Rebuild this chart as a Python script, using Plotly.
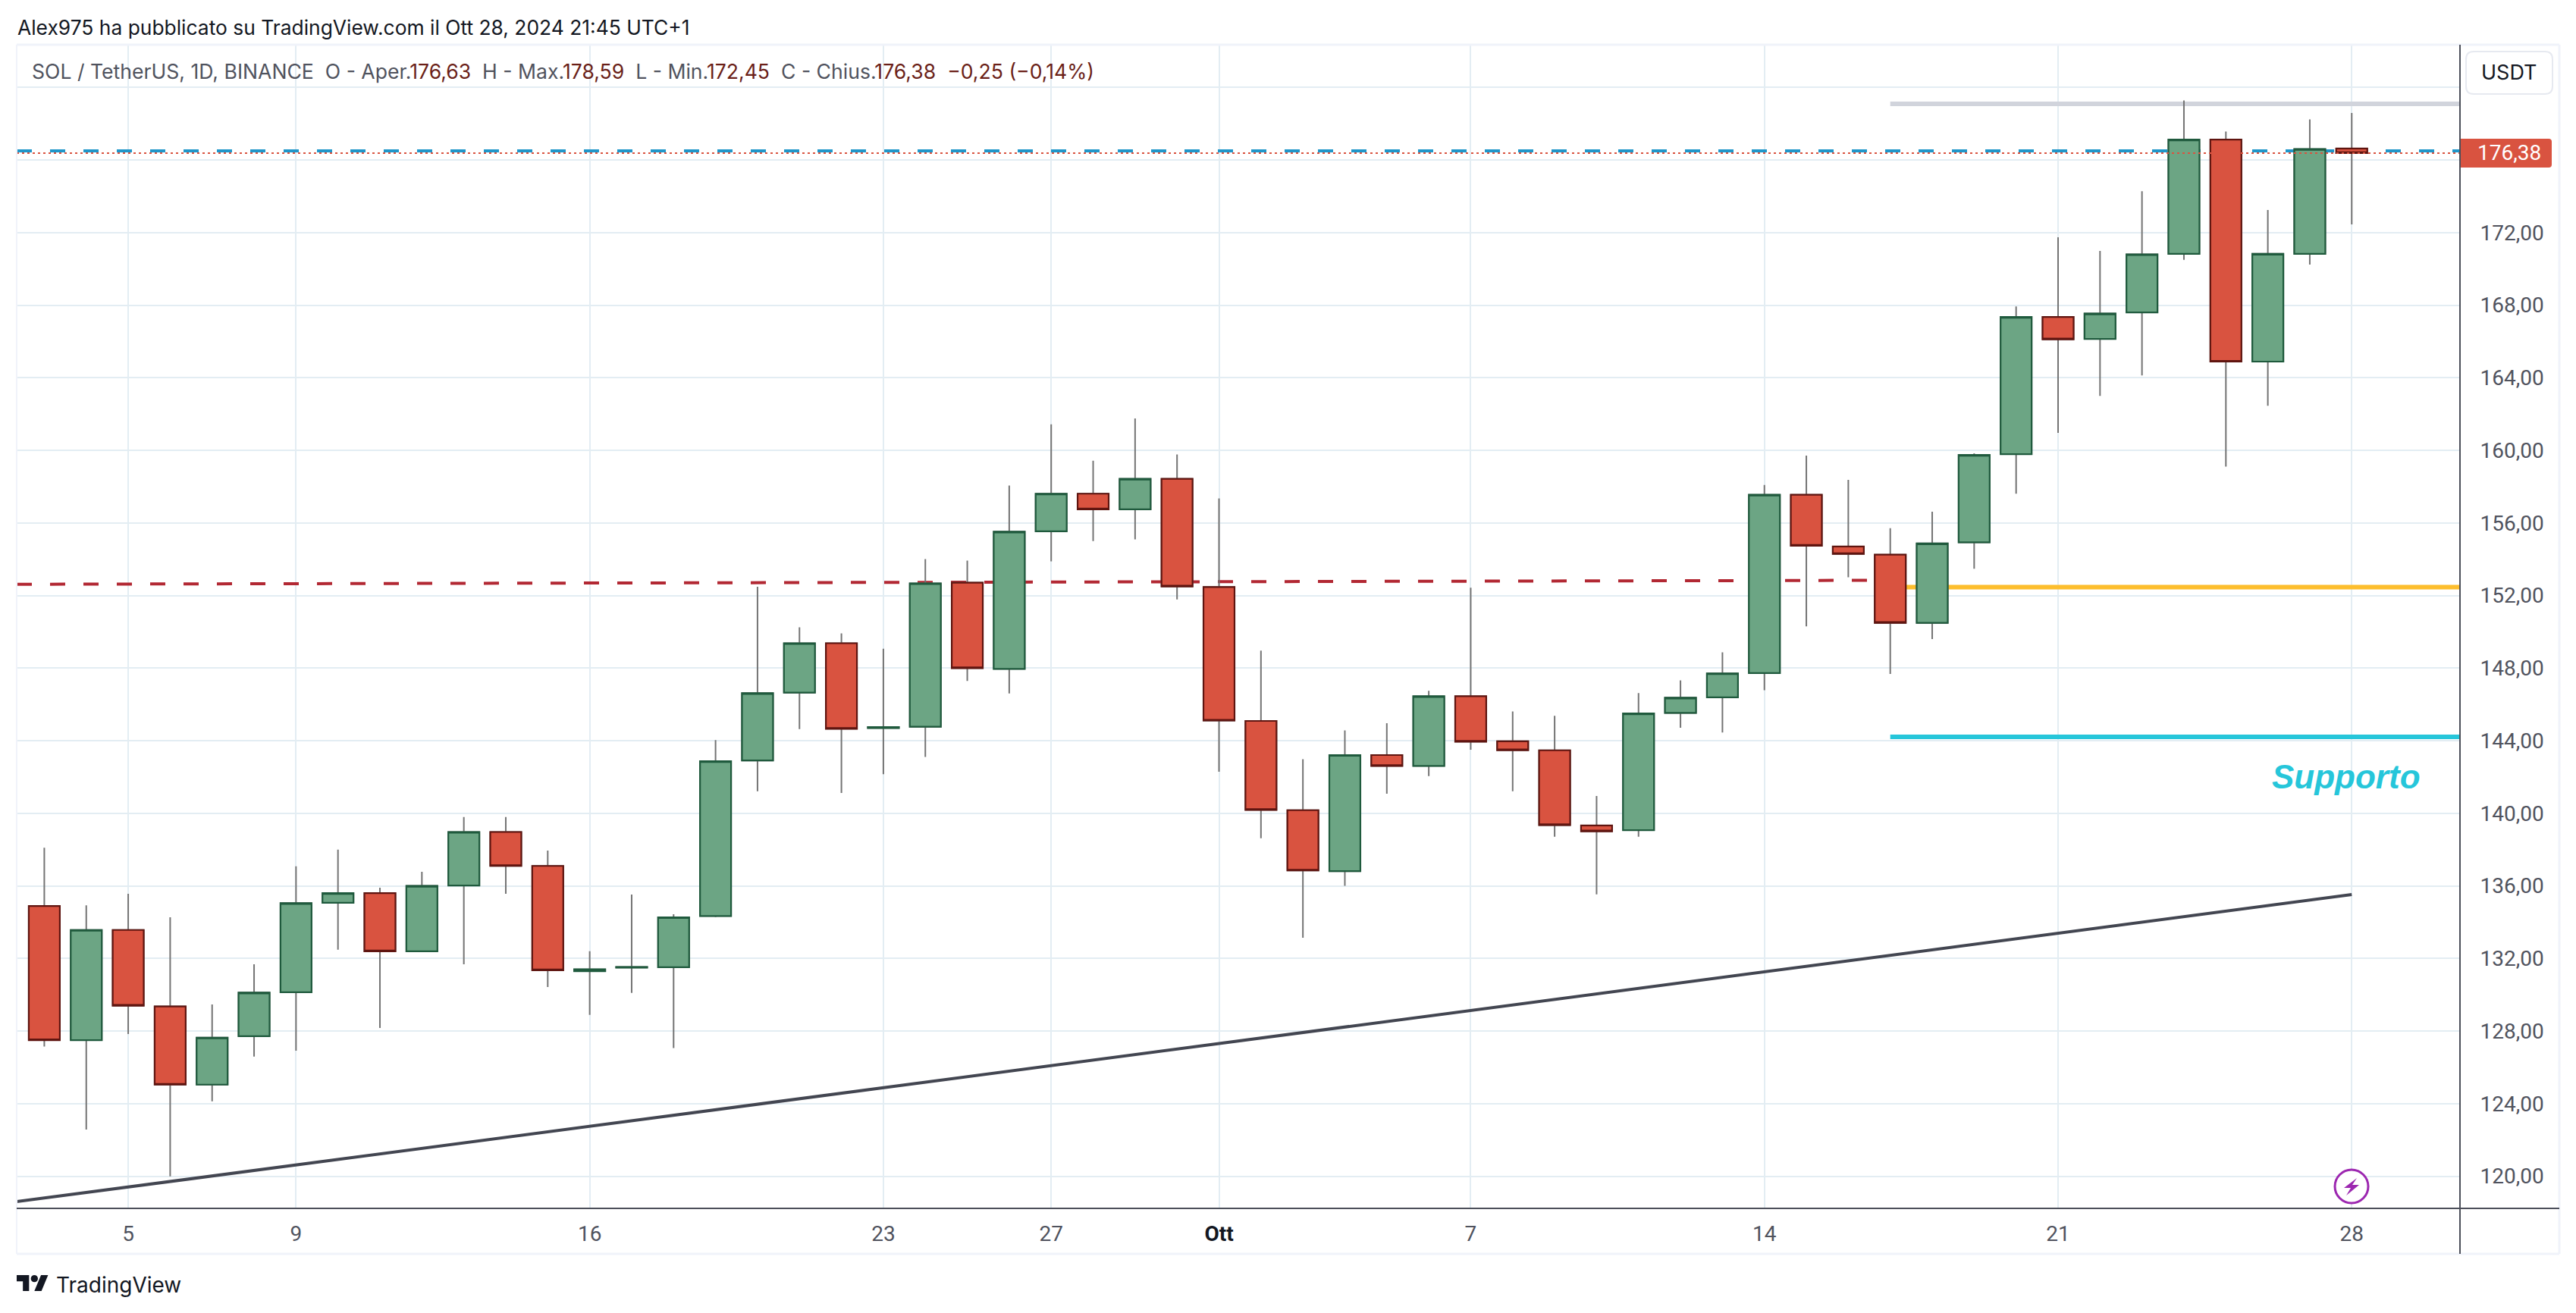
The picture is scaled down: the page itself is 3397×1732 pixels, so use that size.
import pandas as pd
import plotly.graph_objects as go

W, H = 3397, 1732
L, R, T, B = 22, 3244, 59, 1594

dates = pd.date_range("2024-09-03", periods=56, freq="D").strftime("%Y-%m-%d").tolist()
opens = [134.89, 127.50, 133.57, 129.36, 125.05, 127.72, 130.14, 135.07, 135.60, 132.40,
         136.02, 138.97, 137.10, 131.30, 131.50, 131.52, 134.34, 142.91, 146.65, 149.37,
         144.70, 144.77, 152.71, 147.96, 155.54, 157.61, 156.75, 158.43, 152.47, 145.09,
         140.17, 136.81, 143.21, 142.61, 146.45, 143.97, 143.47, 139.33, 139.07, 145.53,
         146.39, 147.73, 157.55, 154.70, 154.25, 150.49, 154.93, 159.79, 167.35, 166.14,
         167.60, 170.83, 177.12, 164.89, 170.83, 176.63]
highs = [138.10, 134.93, 135.57, 134.27, 129.47, 131.68, 137.08, 138.00, 135.90, 136.78,
         139.79, 139.79, 137.95, 132.40, 135.52, 134.44, 144.03, 152.48, 150.25, 149.91,
         149.07, 154.01, 153.92, 158.06, 161.43, 159.43, 161.76, 159.77, 157.35, 148.96,
         142.98, 144.57, 144.96, 146.75, 152.43, 145.61, 145.37, 140.95, 146.62, 147.32,
         148.87, 158.09, 159.71, 158.37, 155.71, 156.62, 159.83, 167.93, 171.74, 170.99,
         174.28, 179.28, 177.57, 173.24, 178.24, 178.59]
lows = [127.15, 122.57, 127.84, 120.00, 124.13, 126.59, 126.92, 132.48, 128.17, 132.40,
        131.68, 135.57, 130.43, 128.89, 130.10, 127.06, 134.28, 141.21, 144.64, 141.12,
        142.16, 143.11, 147.29, 146.60, 153.88, 155.00, 155.09, 151.78, 142.29, 138.62,
        133.14, 136.00, 141.08, 142.05, 143.50, 141.21, 138.71, 135.53, 138.71, 144.71,
        144.45, 146.78, 150.30, 153.00, 147.68, 149.60, 153.47, 157.61, 160.96, 163.00,
        164.13, 170.50, 159.10, 162.46, 170.24, 172.45]
closes = [127.50, 133.57, 129.40, 125.05, 127.64, 130.12, 135.05, 135.60, 132.40, 136.00,
          138.97, 137.10, 131.35, 131.40, 131.53, 134.27, 142.87, 146.62, 149.37, 144.66,
          144.75, 152.67, 148.00, 155.52, 157.61, 156.75, 158.43, 152.50, 145.11, 140.19,
          136.85, 143.21, 142.61, 146.45, 143.95, 143.48, 139.35, 139.01, 145.50, 146.37,
          147.71, 157.55, 154.74, 154.29, 150.49, 154.87, 159.75, 167.35, 166.12, 167.54,
          170.80, 177.12, 164.89, 170.83, 176.60, 176.38]

y_ticks = [120, 124, 128, 132, 136, 140, 144, 148, 152, 156, 160, 164, 168, 172, 176, 180]
y_labels = ["120,00", "124,00", "128,00", "132,00", "136,00", "140,00", "144,00", "148,00",
            "152,00", "156,00", "160,00", "164,00", "168,00", "172,00", "", ""]
x_ticks = ["2024-09-05", "2024-09-09", "2024-09-16", "2024-09-23", "2024-09-27", "2024-10-01",
           "2024-10-07", "2024-10-14", "2024-10-21", "2024-10-28"]
x_labels = ["5", "9", "16", "23", "27", "<b style='color:#131722'>Ott</b>", "7", "14", "21", "28"]

x_range = ["2024-09-02 08:12", "2024-10-30 13:55"]
y_range = [118.23, 182.35]

last_price = 176.38
blue_level = 176.50
resistance_level = 179.09
yellow_level = 152.46
support_level = 144.21
level_start = "2024-10-17"
dashed_x = ["2024-09-02 08:12", "2024-10-17"]
dashed_y = [152.62, 152.84]
trend_x = ["2024-09-02 08:12", "2024-10-28"]
trend_y = [118.60, 135.52]

GRID = "#e3edf3"
TXT = "#50535e"
RED, RED_D = "#d95340", "#5f1510"
GRN, GRN_D = "#6ca584", "#1f5a3d"
WICK = "#747474"


def px(x):
    return (x - L) / (R - L)


def py(y):
    return (B - y) / (B - T)


def pth(cmds):
    out = []
    for c in cmds:
        if isinstance(c, str):
            out.append(c)
        else:
            out.append(f"{px(c[0]):.6f},{py(c[1]):.6f}")
    return " ".join(out)


fig = go.Figure()

# Lines that sit behind the candles live on the base axes
for xs, ys, col, w, dash in [
    (list(x_range), [blue_level] * 2, "#2196c9", 4, "20px,24px"),
    ([level_start, x_range[1]], [resistance_level] * 2, "#d1d4dc", 6, "solid"),
    ([level_start, x_range[1]], [yellow_level] * 2, "#fdbe2d", 6, "solid"),
    ([level_start, x_range[1]], [support_level] * 2, "#26c6da", 6, "solid"),
    (dashed_x, dashed_y, "#b22833", 4, "20px,24px"),
]:
    fig.add_trace(go.Scatter(x=xs, y=ys, mode="lines", line=dict(color=col, width=w, dash=dash),
                             hoverinfo="skip", showlegend=False))

# Full candles in grey give the wicks; the bodies are redrawn on top with their dark outline
fig.add_trace(go.Candlestick(
    x=dates, open=opens, high=highs, low=lows, close=closes, xaxis="x2", yaxis="y2",
    increasing=dict(line=dict(color=WICK, width=2), fillcolor=GRN),
    decreasing=dict(line=dict(color=WICK, width=2), fillcolor=RED),
    whiskerwidth=0, showlegend=False))
fig.add_trace(go.Candlestick(
    x=dates, open=opens, close=closes,
    high=[max(o, c) for o, c in zip(opens, closes)],
    low=[min(o, c) for o, c in zip(opens, closes)],
    xaxis="x2", yaxis="y2",
    increasing=dict(line=dict(color=GRN_D, width=2.2), fillcolor=GRN),
    decreasing=dict(line=dict(color=RED_D, width=2.2), fillcolor=RED),
    whiskerwidth=0, showlegend=False))

fig.add_trace(go.Scatter(x=list(x_range), y=[last_price] * 2, xaxis="x2", yaxis="y2", mode="lines",
                         line=dict(color="#d95340", width=2, dash="3px,4px"),
                         hoverinfo="skip", showlegend=False))
fig.add_trace(go.Scatter(x=trend_x, y=trend_y, xaxis="x2", yaxis="y2", mode="lines",
                         line=dict(color="#434651", width=4), hoverinfo="skip", showlegend=False))

shapes = []


def line(x0, y0, x1, y1, col, w):
    shapes.append(dict(type="line", xref="paper", yref="paper", x0=px(x0), y0=py(y0), x1=px(x1), y1=py(y1),
                       line=dict(color=col, width=w), layer="above"))


# outer frame
line(L, T, 3375, T, "#f0f3fa", 3)
line(L, 1654, 3375, 1654, "#f0f3fa", 3)
line(L, T, L, 1654, "#f0f3fa", 2)
line(3375, T, 3375, 1654, "#f0f3fa", 3)
# scale separators
line(L, B, 3375, B, "#4c4f5a", 2)
line(R, T, R, 1654, "#4c4f5a", 2)

# USDT button
x0, x1, y0, y1, r = 3252, 3366, 68, 124, 10
shapes.append(dict(type="path", xref="paper", yref="paper", layer="above", fillcolor="white",
                   line=dict(color="#e6e9f0", width=2),
                   path=pth(["M", (x0 + r, y0), "L", (x1 - r, y0), "Q", (x1, y0), (x1, y0 + r), "L", (x1, y1 - r),
                             "Q", (x1, y1), (x1 - r, y1), "L", (x0 + r, y1), "Q", (x0, y1), (x0, y1 - r),
                             "L", (x0, y0 + r), "Q", (x0, y0), (x0 + r, y0), "Z"])))
# last-price tag
x0, x1, y0, y1, r = 3245, 3365, 183, 221, 4
shapes.append(dict(type="path", xref="paper", yref="paper", layer="above", fillcolor=RED,
                   line=dict(width=0),
                   path=pth(["M", (x0, y0), "L", (x1 - r, y0), "Q", (x1, y0), (x1, y0 + r), "L", (x1, y1 - r),
                             "Q", (x1, y1), (x1 - r, y1), "L", (x0, y1), "Z"])))
# purple flash badge
shapes.append(dict(type="circle", xref="paper", yref="paper", layer="above", fillcolor="white",
                   x0=px(3079), x1=px(3123), y0=py(1543), y1=py(1587), line=dict(color="#9c27b0", width=3)))
shapes.append(dict(type="path", xref="paper", yref="paper", layer="above", fillcolor="#9c27b0", line=dict(width=0),
                   path=pth(["M", (3108, 1554), "L", (3091, 1567), "L", (3100, 1567), "L", (3094, 1577),
                             "L", (3111, 1563), "L", (3102, 1563), "Z"])))
# TradingView mark
s, ox, oy = 42 / 36, 22, 1677.3


def lg(a, b):
    return (ox + a * s, oy + b * s)


shapes.append(dict(type="path", xref="paper", yref="paper", layer="above", fillcolor="#131722", line=dict(width=0),
                   path=pth(["M", lg(14, 22), "L", lg(7, 22), "L", lg(7, 11), "L", lg(0, 11), "L", lg(0, 4),
                             "L", lg(14, 4), "Z", "M", lg(28, 22), "L", lg(20, 22), "L", lg(27.5, 4), "L", lg(35.5, 4), "Z"])))
shapes.append(dict(type="circle", xref="paper", yref="paper", layer="above", fillcolor="#131722", line=dict(width=0),
                   x0=px(lg(16, 0)[0]), x1=px(lg(24, 0)[0]), y0=py(lg(0, 4)[1]), y1=py(lg(0, 12)[1])))

NB = "\u00a0"


def v(t):
    return f"<span style='color:#6b1f18'>{t}</span>"


header = (f"SOL / TetherUS, 1D, BINANCE{NB}{NB}O - Aper.{v('176,63')}{NB}{NB}H - Max.{v('178,59')}{NB}{NB}"
          f"L - Min.{v('172,45')}{NB}{NB}C - Chius.{v('176,38')}{NB}{NB}{v('−0,25 (−0,14%)')}")


def note(text, xp, yp, size, color, anchor="left", family="Inter", **kw):
    return dict(text=text, xref="paper", yref="paper", x=px(xp), y=py(yp), xanchor=anchor, yanchor="middle",
                showarrow=False, font=dict(family=family, size=size, color=color), borderpad=0, **kw)


annotations = [
    note("Alex975 ha pubblicato su TradingView.com il Ott 28, 2024 21:45 UTC+1", 22, 36, 26.4, "#131722"),
    note(header, 41, 94, 26.6, TXT),
    note("USDT", 3309, 96, 27, "#131722", anchor="center"),
    note("176,38", 3309, 201, 28, "white", anchor="center", family="Roboto"),
    note("TradingView", 73, 1695, 28, "#131722"),
    dict(text="<b><i>Supporto</i></b>", xref="x2", yref="y2", x="2024-10-27 21:00", y=142.0,
         xanchor="center", yanchor="middle", showarrow=False,
         font=dict(family="Liberation Sans", size=44, color="#26c6da")),
]

tickfont = dict(family="Roboto", size=28, color=TXT)
fig.update_layout(
    width=W, height=H, autosize=False,
    paper_bgcolor="white", plot_bgcolor="white",
    margin=dict(l=L, r=W - R, t=T, b=H - B, pad=0),
    showlegend=False, boxgap=0.26, boxgroupgap=0,
    shapes=shapes, annotations=annotations,
    xaxis=dict(type="date", range=x_range, tickmode="array", tickvals=x_ticks, ticktext=x_labels,
               showgrid=True, gridcolor=GRID, gridwidth=2, zeroline=False, showline=False,
               ticks="outside", ticklen=8, tickcolor="rgba(0,0,0,0)", tickfont=tickfont,
               rangeslider=dict(visible=False)),
    yaxis=dict(range=y_range, side="right", tickmode="array", tickvals=y_ticks, ticktext=y_labels,
               showgrid=True, gridcolor=GRID, gridwidth=2, zeroline=False, showline=False,
               ticks="outside", ticklen=20, tickcolor="rgba(0,0,0,0)", tickfont=tickfont),
    xaxis2=dict(type="date", range=x_range, overlaying="x", visible=False, rangeslider=dict(visible=False)),
    yaxis2=dict(range=y_range, overlaying="y", visible=False),
)

fig.write_html("out.html", config=dict(displayModeBar=False),
               post_script="document.body.style.margin='0';document.body.style.overflow='hidden';")
